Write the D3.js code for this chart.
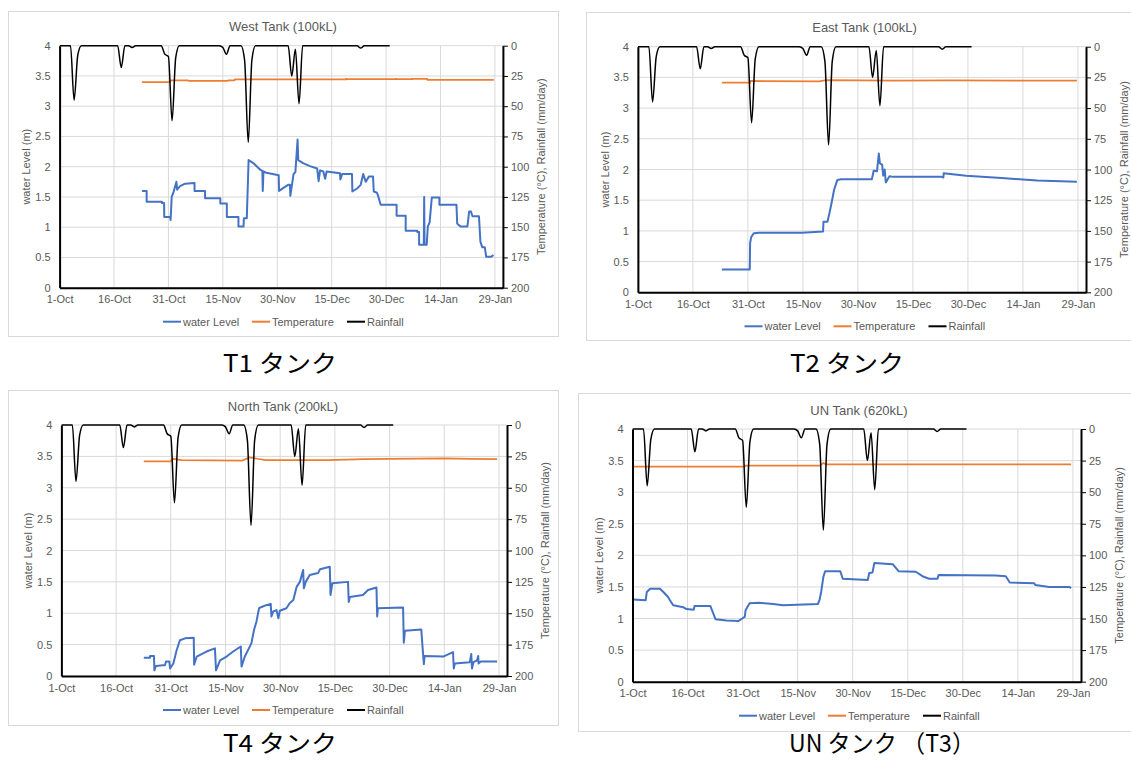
<!DOCTYPE html>
<html><head><meta charset="utf-8">
<script src="https://cdn.jsdelivr.net/npm/d3@7"></script>
<style>
html,body{margin:0;padding:0;background:#fff;}
svg text{font-family:"Liberation Sans",Arial,sans-serif;}
</style></head>
<body><svg id="c" width="1131" height="762"></svg>
<script>
// ---------- data ----------
const tickDays = [0,15,30,45,60,75,90,105,120];
const tickLabels = ["1-Oct","16-Oct","31-Oct","15-Nov","30-Nov","15-Dec","30-Dec","14-Jan","29-Jan"];
const leftTicks = [0,0.5,1,1.5,2,2.5,3,3.5,4];
const rightTicks = [0,25,50,75,100,125,150,175,200];
const seriesNames = ["water Level","Temperature","Rainfall"];

// daily rainfall (mm/day), day 0 = 1-Oct
const rainDays = d3.range(0,92);
const rainValues = [
 0,0,0,0,45,8,0,0,0,0, 0,0,0,0,0,0,0,18,0,0,
 1.5,0,0,0,0,0,0,0,0,7, 9,62,10,0,0,0,0,0,0,0,
 0,0,0,0,0,1.5,7,0,0,0, 0,12,80,12,0,0,0,0,0,0,
 0,0,0,0,25,3,48,0,0,0, 0,0,0,0,0,0,0,0,0,0,
 0,0,0,2,0,0,0,0,0,0, 0,0];

// water level [day, m]
const t1Level = [[22.7,1.60],[24.0,1.60],[24.0,1.42],[28.2,1.42],[28.2,1.40],[28.8,1.40],[28.85,1.17],[30.5,1.17],[30.6,1.12],[30.9,1.50],[31.4,1.58],[32.2,1.75],[32.4,1.62],[33.2,1.68],[34.6,1.72],[37.2,1.73],[37.2,1.60],[40.1,1.60],[40.1,1.48],[44.3,1.48],[44.3,1.39],[46.1,1.39],[46.1,1.17],[49.3,1.17],[49.3,1.01],[50.7,1.01],[50.8,1.15],[51.6,1.15],[52.1,2.11],[53.4,2.06],[55.3,1.95],[55.9,1.93],[56.0,1.60],[56.2,1.92],[57.0,1.90],[60.4,1.86],[60.5,1.60],[61.7,1.65],[63.0,1.70],[63.5,1.70],[63.6,1.52],[64.5,1.88],[65.0,1.91],[65.6,2.45],[65.8,2.11],[67.1,2.06],[69.0,2.01],[71.0,1.97],[71.4,1.76],[71.8,1.94],[72.7,1.92],[73.2,1.80],[73.6,1.92],[77.3,1.89],[77.4,1.79],[77.9,1.88],[80.6,1.88],[80.7,1.59],[82.0,1.64],[83.0,1.70],[83.7,1.88],[84.4,1.75],[85.3,1.84],[86.4,1.84],[86.6,1.59],[87.5,1.57],[88.0,1.48],[88.5,1.37],[92.9,1.37],[92.9,1.19],[95.4,1.19],[95.4,0.94],[98.6,0.94],[98.6,0.92],[99.1,0.92],[99.1,0.71],[100.4,0.71],[100.5,1.50],[100.6,0.71],[101.2,0.71],[101.5,1.01],[102.0,1.08],[102.6,1.49],[104.7,1.49],[104.7,1.37],[109.4,1.37],[109.6,1.06],[110.5,1.01],[112.4,1.01],[112.9,1.26],[113.4,1.26],[113.8,1.18],[115.6,1.18],[116.0,0.76],[116.5,0.67],[117.2,0.67],[117.6,0.51],[119.0,0.51],[119.6,0.54]];
const t2Level = [[22.9,0.37],[30.5,0.37],[30.6,0.80],[30.9,0.90],[31.6,0.96],[33,0.97],[44.7,0.97],[50.5,0.99],[50.6,1.15],[51.7,1.15],[52.2,1.28],[52.8,1.45],[53.5,1.67],[54.4,1.83],[55.4,1.84],[63.8,1.84],[64.3,1.98],[65.2,1.97],[65.7,2.26],[66.0,2.10],[66.6,2.08],[66.9,1.90],[67.3,2.00],[67.6,1.79],[68.6,1.89],[69.6,1.88],[82.8,1.88],[83.3,1.87],[83.4,1.94],[89.5,1.90],[99.2,1.86],[108.9,1.82],[119.7,1.80]];
const t4Level = [[22.6,0.29],[24.3,0.29],[24.3,0.32],[25.4,0.32],[25.5,0.09],[25.9,0.16],[27.9,0.17],[28.4,0.17],[28.7,0.23],[29.6,0.23],[29.8,0.12],[30.7,0.20],[31.6,0.41],[32.5,0.57],[33.9,0.60],[36.3,0.61],[36.4,0.18],[37.1,0.31],[39.8,0.39],[42.1,0.44],[42.4,0.09],[43.5,0.25],[45.3,0.31],[47.1,0.39],[49.2,0.47],[49.4,0.15],[50.3,0.31],[52.1,0.52],[52.8,0.73],[53.5,0.87],[54.2,1.08],[54.9,1.10],[56.2,1.13],[57.4,1.15],[57.6,0.95],[58.1,1.03],[59.0,1.05],[59.5,0.92],[59.9,1.04],[61.7,1.08],[62.6,1.16],[63.6,1.21],[64.5,1.42],[65.4,1.50],[66.3,1.69],[66.5,1.40],[67.0,1.50],[68.1,1.61],[70.4,1.64],[70.9,1.70],[73.6,1.74],[73.8,1.29],[74.3,1.48],[78.6,1.50],[78.8,1.18],[79.1,1.26],[82.7,1.29],[84.1,1.37],[86.4,1.41],[86.6,0.95],[86.8,1.08],[93.7,1.09],[93.9,0.53],[94.2,0.72],[98.7,0.74],[98.9,0.57],[99.4,0.19],[99.6,0.32],[104.7,0.31],[107.4,0.38],[107.6,0.12],[107.9,0.20],[112.0,0.22],[112.4,0.35],[112.6,0.12],[113.0,0.22],[114.0,0.25],[114.3,0.32],[114.4,0.20],[115.0,0.23],[119.5,0.23]];
const unLevel = [[0,1.30],[3.6,1.29],[3.9,1.42],[4.8,1.47],[7.5,1.47],[8.4,1.42],[9.7,1.34],[10.2,1.29],[11.1,1.21],[13.8,1.18],[14.7,1.15],[16.7,1.14],[16.9,1.20],[21.2,1.20],[22.0,1.08],[22.6,0.99],[25.6,0.97],[28.8,0.96],[29.9,1.00],[30.6,1.03],[30.8,1.13],[31.9,1.24],[34.6,1.25],[38.3,1.23],[41.0,1.21],[50.5,1.23],[50.95,1.29],[51.4,1.42],[52.0,1.66],[52.5,1.75],[56.6,1.75],[57.3,1.63],[64.1,1.61],[64.5,1.72],[65.4,1.73],[65.9,1.88],[70.9,1.86],[72.5,1.75],[77.2,1.74],[79.0,1.67],[80.8,1.63],[83.1,1.63],[83.4,1.69],[99.0,1.68],[101.7,1.67],[102.8,1.57],[109.4,1.56],[109.8,1.53],[113.5,1.50],[119.0,1.50],[119.5,1.48]];

// temperature [day, degC]
const t1Temp = [[22.7,30.0],[30.4,30.0],[30.5,28.6],[35.4,28.6],[35.5,29.0],[46.4,29.0],[46.5,28.6],[48.2,28.6],[48.3,27.8],[79,27.8],[79.05,26.8],[79.1,27.6],[92.6,27.6],[92.65,26.9],[92.7,27.6],[97.2,27.6],[97.25,26.9],[97.3,27.5],[101.3,27.5],[101.4,28.3],[119.7,28.3]];
const t2Temp = [[22.9,29.3],[30.6,29.3],[30.7,27.9],[49.5,28.2],[51.3,27.3],[70,27.6],[85,27.5],[119.7,27.6]];
const t4Temp = [[22.6,28.9],[30.0,28.9],[30.5,26.9],[33,27.9],[49.5,28.4],[51.7,25.8],[53.7,26.9],[56,27.9],[73,27.9],[83,27.2],[105,26.6],[112,27.0],[119.5,27.2]];
const unTemp = [[0,29.8],[30.5,29.8],[30.7,29.0],[51,29.0],[52,27.0],[52.8,28.0],[119.5,28.0]];

const titles = ["West Tank (100kL)","East Tank (100kL)","North Tank (200kL)","UN Tank (620kL)"];
const captions = ["T1 タンク","T2 タンク","T4 タンク","UN タンク （T3）"];

// ---------- layout ----------
const panels = [
 {frame:[8,11,558,336], plot:{l:59.6,t:45.7,r:502.9,b:287.7}, level:t1Level, temp:t1Temp, cap:[280,364,114]},
 {frame:[586,12,1143,340], plot:{l:637.9,t:46.7,r:1086,b:292.3}, level:t2Level, temp:t2Temp, cap:[847,364,114]},
 {frame:[8,390,558,725], plot:{l:61.4,t:425,r:507,b:676}, level:t4Level, temp:t4Temp, cap:[280,744,114]},
 {frame:[578,393,1140,731], plot:{l:632.5,t:429,r:1081,b:681.7}, level:unLevel, temp:unTemp, cap:[882,744,186]}
];
const colors = {level:"#4472C4", temp:"#ED7D31", rain:"#000000"};
const base = Date.UTC(2019,9,1);
const dayToDate = d => new Date(base + d*864e5);
const DOMAIN_END = 122.2;

const svg = d3.select("#c");
svg.append("rect").attr("width",1131).attr("height",762).attr("fill","#fff");

panels.forEach((P,i)=>{
  const g = svg.append("g");
  const [fx0,fy0,fx1,fy1] = P.frame;
  g.append("rect").attr("x",fx0+0.5).attr("y",fy0+0.5).attr("width",fx1-fx0).attr("height",fy1-fy0)
    .attr("fill","#fff").attr("stroke","#d9d9d9").attr("stroke-width",1);
  const p = P.plot;
  const cx = (fx0+fx1)/2;
  const x = d3.scaleUtc().domain([dayToDate(0), dayToDate(DOMAIN_END)]).range([p.l,p.r]);
  const yL = d3.scaleLinear().domain([0,4]).range([p.b,p.t]);
  const yR = d3.scaleLinear().domain([0,200]).range([p.t,p.b]);

  // grid
  g.append("g").selectAll("line").data(leftTicks).join("line")
    .attr("x1",p.l).attr("x2",p.r).attr("y1",d=>yL(d)).attr("y2",d=>yL(d))
    .attr("stroke","#d9d9d9").attr("stroke-width",1);
  g.append("g").selectAll("line").data(tickDays).join("line")
    .attr("x1",d=>x(dayToDate(d))).attr("x2",d=>x(dayToDate(d))).attr("y1",p.t).attr("y2",p.b)
    .attr("stroke","#d9d9d9").attr("stroke-width",1);

  const cid = "clip"+i;
  g.append("clipPath").attr("id",cid).append("rect")
    .attr("x",p.l).attr("y",p.t-3).attr("width",p.r-p.l).attr("height",p.b-p.t+3);
  const s = g.append("g").attr("clip-path",`url(#${cid})`);

  const lvl = d3.line().x(d=>x(dayToDate(d[0]))).y(d=>yL(d[1]));
  const tmp = d3.line().x(d=>x(dayToDate(d[0]))).y(d=>yR(d[1]));
  const rain = d3.line().curve(d3.curveMonotoneX).x((d,k)=>x(dayToDate(rainDays[k]))).y(d=>yR(d));

  s.append("path").attr("d",lvl(P.level)).attr("fill","none").attr("stroke",colors.level)
    .attr("stroke-width",2).attr("stroke-linejoin","round");
  s.append("path").attr("d",tmp(P.temp)).attr("fill","none").attr("stroke",colors.temp)
    .attr("stroke-width",1.75);
  s.append("path").attr("d",rain(rainValues)).attr("fill","none").attr("stroke",colors.rain)
    .attr("stroke-width",1.5).attr("stroke-linejoin","round");

  // axes
  const ax = g.append("g").attr("transform",`translate(0,${p.b})`)
    .call(d3.axisBottom(x).tickValues(tickDays.map(dayToDate)).tickSize(0).tickSizeOuter(0).tickPadding(8)
      .tickFormat((d,k)=>tickLabels[k]));
  const ayl = g.append("g").attr("transform",`translate(${p.l},0)`)
    .call(d3.axisLeft(yL).tickValues(leftTicks).tickSize(0).tickSizeOuter(0).tickPadding(9)
      .tickFormat(d3.format("~g")));
  const ayr = g.append("g").attr("transform",`translate(${p.r},0)`)
    .call(d3.axisRight(yR).tickValues(rightTicks).tickSize(5).tickSizeOuter(0).tickPadding(3));
  [ax,ayl,ayr].forEach(a=>{
    a.select(".domain").attr("stroke","#000").attr("stroke-width",2);
    a.selectAll(".tick line").attr("stroke","#000").attr("stroke-width",1);
    a.selectAll("text").attr("fill","#595959").attr("font-size",11);
  });

  // titles
  g.append("text").attr("x",cx).attr("y",p.t-19).attr("dy","0.35em").attr("text-anchor","middle")
    .attr("fill","#595959").attr("font-size",13).text(titles[i]);
  const ym = (p.t+p.b)/2;
  g.append("text").attr("transform",`translate(${p.l-33},${ym}) rotate(-90)`).attr("dy","0.35em")
    .attr("text-anchor","middle").attr("fill","#595959").attr("font-size",11).text("water Level (m)");
  g.append("text").attr("transform",`translate(${p.r+38},${ym}) rotate(-90)`).attr("dy","0.35em")
    .attr("text-anchor","middle").attr("fill","#595959").attr("font-size",11).text("Temperature (°C), Rainfall (mm/day)");

  // legend
  const ly = p.b+34;
  const items = [[cx-120,colors.level],[cx-31,colors.temp],[cx+64,colors.rain]];
  items.forEach(([lx,col],k)=>{
    g.append("line").attr("x1",lx).attr("x2",lx+18).attr("y1",ly).attr("y2",ly)
      .attr("stroke",col).attr("stroke-width",2);
    g.append("text").attr("x",lx+20).attr("y",ly).attr("dy","0.35em").attr("fill","#595959")
      .attr("font-size",11).text(seriesNames[k]);
  });

  // caption
  const [capx,capy,capw] = P.cap;
  svg.append("text").attr("x",capx).attr("y",capy).attr("dy","0.35em").attr("text-anchor","middle")
    .attr("font-size",24).attr("fill","#000")
    .attr("textLength",capw).attr("lengthAdjust","spacingAndGlyphs")
    .style("font-family","'Noto Sans CJK JP',sans-serif").text(captions[i]);
});
</script></body></html>
